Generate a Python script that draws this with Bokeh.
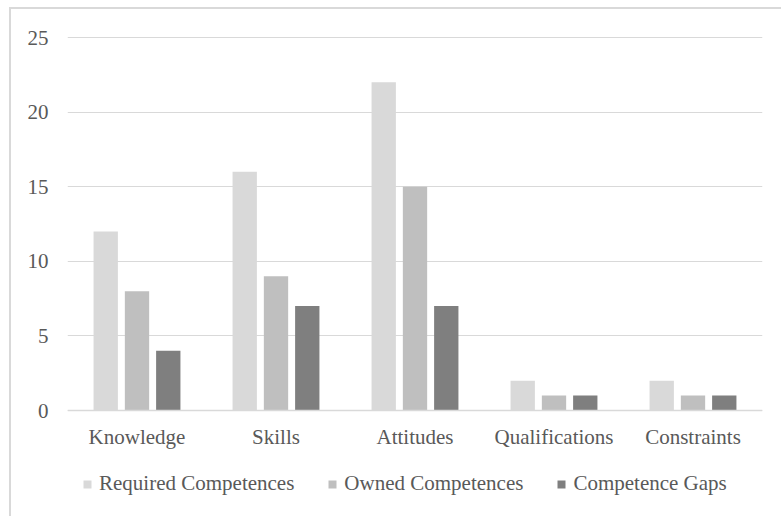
from bokeh.plotting import figure
from bokeh.models import ColumnDataSource, FactorRange, Legend, LegendItem, FixedTicker, Range1d
from bokeh.transform import dodge
from bokeh.embed import file_html
from bokeh.resources import INLINE

categories = ["Knowledge", "Skills", "Attitudes", "Qualifications", "Constraints"]
required = [12, 16, 22, 2, 2]
owned = [8, 9, 15, 1, 1]
gaps = [4, 7, 7, 1, 1]
series_names = ["Required Competences", "Owned Competences", "Competence Gaps"]
colors = ["#d9d9d9", "#bfbfbf", "#7f7f7f"]
y_ticks = [0, 5, 10, 15, 20, 25]

src = ColumnDataSource(dict(cat=categories, required=required, owned=owned, gaps=gaps))

FONT = "'Times New Roman', 'Liberation Serif', serif"
TXT = "#595959"

# frame spans page y 36..518 ; value 25 at y=37, value 0 at y=410
ppu = (410 - 37) / 25.0
y_top = 25 + 1 / ppu
y_bot = -(518 - 410) / ppu

p = figure(x_range=FactorRange(*categories, range_padding=0), y_range=Range1d(y_bot, y_top),
           width=772, height=509, output_backend="svg", toolbar_location=None,
           min_border_left=56, min_border_right=21, min_border_top=27, min_border_bottom=0)
p.margin = (7, 0, 0, 9)
p.styles = {"border-left": "2px solid #d9d9d9", "border-top": "2px solid #d9d9d9"}
p.outline_line_color = None
p.background_fill_color = "white"
p.border_fill_color = "white"

renderers = []
for field, off, col in zip(["required", "owned", "gaps"], [-0.225, 0.0, 0.225], colors):
    r = p.vbar(x=dodge("cat", off, range=p.x_range), top=field, bottom=0, width=0.175, source=src,
               fill_color=col, line_color=None)
    renderers.append(r)

p.yaxis.ticker = FixedTicker(ticks=y_ticks)
p.ygrid.ticker = FixedTicker(ticks=y_ticks)
p.xgrid.grid_line_color = None
p.ygrid.grid_line_color = "#d9d9d9"
p.ygrid.grid_line_width = 1

for ax in [p.xaxis[0], p.yaxis[0]]:
    ax.major_tick_line_color = None
    ax.minor_tick_line_color = None
    ax.major_label_text_font = FONT
    ax.major_label_text_font_size = "21px"
    ax.major_label_text_color = TXT
p.yaxis.axis_line_color = None
p.yaxis.major_label_standoff = 13
p.xaxis.fixed_location = 0
p.xaxis.axis_line_color = "#d9d9d9"
p.xaxis.axis_line_width = 1.5
p.xaxis.major_label_standoff = 8

legend = Legend(items=[LegendItem(label=n, renderers=[r]) for n, r in zip(series_names, renderers)],
                orientation="horizontal", location=(15, 22),
                glyph_width=10, glyph_height=10, label_standoff=7, spacing=33,
                padding=0, margin=0, border_line_color=None, background_fill_alpha=0,
                label_text_font=FONT, label_text_font_size="21px", label_text_color=TXT,
                label_height=10)
p.add_layout(legend, "center")

open("out.html", "w").write(file_html(p, INLINE))
